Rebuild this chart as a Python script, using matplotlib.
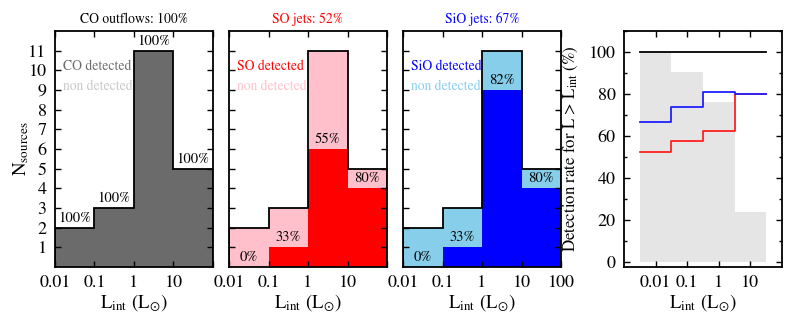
import numpy as np
import matplotlib
matplotlib.use("Agg")
import matplotlib.pyplot as plt
from matplotlib.ticker import MultipleLocator, NullLocator

plt.rcParams['font.family'] = ['STIXGeneral', 'DejaVu Serif']
plt.rcParams['mathtext.fontset'] = 'stix'

# ---- data ----
edges = [0.01, 0.1, 1, 10, 100]
n_total = [2, 3, 11, 5]
n_co = [2, 3, 11, 5]
n_so = [0, 1, 6, 4]
n_sio = [0, 1, 9, 4]
co_pct = ['100%', '100%', '100%', '100%']
so_pct = ['0%', '33%', '55%', '80%']
sio_pct = ['0%', '33%', '82%', '80%']
titles = ['CO outflows: 100%', 'SO jets: 52%', 'SiO jets: 67%']
xtick_labels = ['0.01', '0.1', '1', '10', '100']

rate_edges = [10**-2.5, 10**-1.5, 10**-0.5, 10**0.5, 10**1.5]
frac_above = [100, 90.5, 76.2, 23.8]
co_rate = [100, 100, 100, 100]
so_rate = [52.4, 57.9, 62.5, 80.0]
sio_rate = [66.7, 73.7, 81.2, 80.0]

W, H = 789, 315
fig = plt.figure(figsize=(W / 100, H / 100), dpi=100)

def fr(l, b, w, h):
    return [l / W, (H - b) / H, w / W, h / H]

lefts = [55, 229, 403]
panels = [
    dict(det=n_co, pct=co_pct, fill='#6b6b6b', bg='#6b6b6b', tcol='black',
         lab1='CO detected', c1='#6b6b6b', c2='#c8c8c8'),
    dict(det=n_so, pct=so_pct, fill='#ff0000', bg='#ffc0cb', tcol='#ff0000',
         lab1='SO detected', c1='#ff0000', c2='#ffc0cb'),
    dict(det=n_sio, pct=sio_pct, fill='#0000ff', bg='#87ceeb', tcol='#0000ff',
         lab1='SiO detected', c1='#0000ff', c2='#87ceeb'),
]

centers = [np.sqrt(edges[i] * edges[i + 1]) for i in range(4)]

for k, (l, p) in enumerate(zip(lefts, panels)):
    ax = fig.add_axes(fr(l, 267, 158, 236))
    ax.set_xscale('log')
    ax.stairs(n_total, edges, fill=True, color=p['bg'], lw=0)
    ax.stairs(p['det'], edges, fill=True, color=p['fill'], lw=0)
    ax.stairs(n_total, edges, color='black', lw=1.3)
    for c, d, t in zip(centers, p['det'], p['pct']):
        ax.text(c, d + 0.5, t, ha='center', va='center', fontsize=10.5, color='black')
    ax.text(0.0155, 10.2, p['lab1'], color=p['c1'], fontsize=9.8, va='center')
    ax.text(0.0155, 9.2, 'non detected', color=p['c2'], fontsize=9.8, va='center')
    ax.set_xlim(0.01, 100)
    ax.set_ylim(0, 12)
    ax.set_xticks(edges)
    labs = list(xtick_labels)
    if k < 2:
        labs[-1] = ''
    ax.set_xticklabels(labs)
    ax.xaxis.set_minor_locator(NullLocator())
    ax.set_yticks(range(1, 12))
    if k > 0:
        ax.set_yticklabels([])
    else:
        ax.set_ylabel(r'N$_{\rm sources}$', fontsize=13.5, labelpad=-2)
    ax.tick_params(direction='in', top=True, right=True, length=4, width=1,
                   labelsize=13, pad=6)
    for s in ax.spines.values():
        s.set_linewidth(1.3)
    ax.set_xlabel(r'L$_{\rm int}$ (L$_{\odot}$)', fontsize=13.5, labelpad=1)
    ax.set_title(titles[k], color=p['tcol'], fontsize=9.8, pad=6)

# ---- right panel ----
ax = fig.add_axes(fr(624, 267, 158, 236))
ax.set_xscale('log')
ax.stairs(frac_above, rate_edges, fill=True, color='#e5e5e5', lw=0)

def step_line(vals, color):
    x = list(rate_edges)
    y = list(vals) + [vals[-1]]
    ax.plot(x, y, drawstyle='steps-post', color=color, lw=1.3)

step_line(co_rate, 'black')
step_line(so_rate, '#ff2020')
step_line(sio_rate, '#2020ff')
ax.set_xlim(0.001, 100)
ax.set_ylim(-2.2, 110)
ax.set_xticks([0.01, 0.1, 1, 10])
ax.set_xticklabels(['0.01', '0.1', '1', '10'])
ax.xaxis.set_minor_locator(NullLocator())
ax.yaxis.set_major_locator(MultipleLocator(20))
ax.yaxis.set_minor_locator(MultipleLocator(10))
ax.tick_params(which='both', direction='in', top=True, right=True, width=1,
               labelsize=13, pad=6)
ax.tick_params(which='major', length=4)
ax.tick_params(which='minor', length=2.5)
for s in ax.spines.values():
    s.set_linewidth(1.3)
ax.set_xlabel(r'L$_{\rm int}$ (L$_{\odot}$)', fontsize=13.5, labelpad=1)
ax.set_ylabel(r'Detection rate for L > L$_{\rm int}$ (%)', fontsize=12.2, labelpad=6)

fig.savefig('out.png', dpi=100)
